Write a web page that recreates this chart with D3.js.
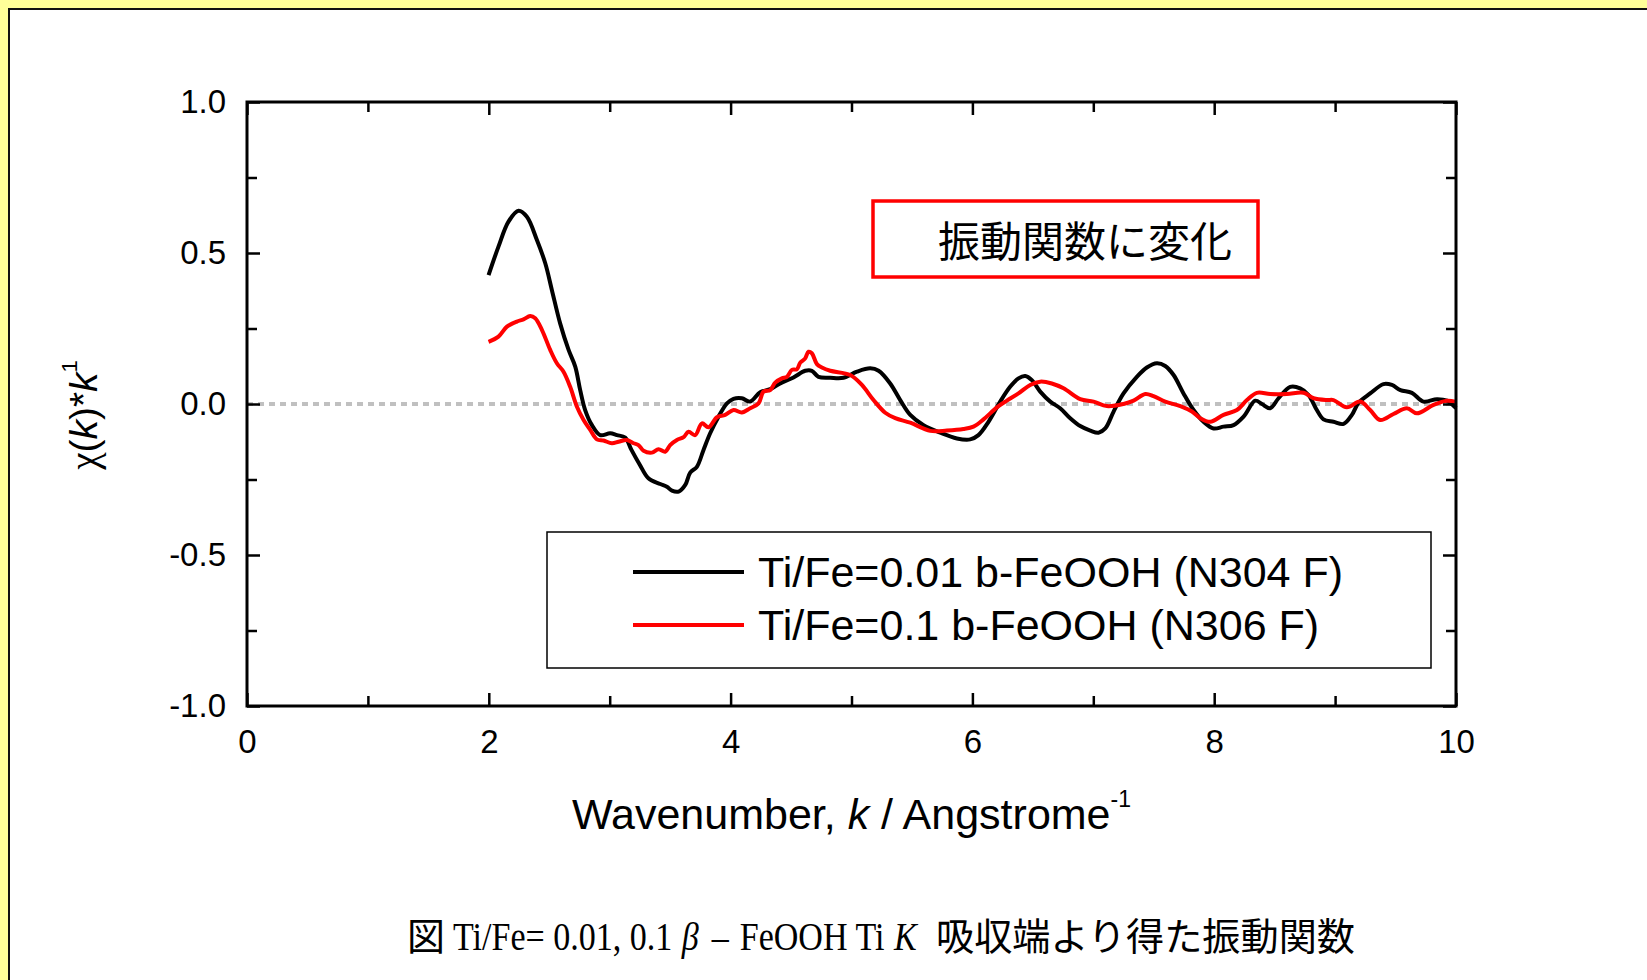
<!DOCTYPE html>
<html>
<head>
<meta charset="utf-8">
<script src="https://cdn.jsdelivr.net/npm/d3@7"></script>
<style>
  body { margin: 0; background: #fff; }
  svg { display: block; }
</style>
</head>
<body>
<svg id="chart" width="1647" height="980"></svg>
<script>
// EXAFS oscillation chi(k)*k for two Ti-doped beta-FeOOH samples
const n304K   = [1.998,2.08,2.163,2.246,2.315,2.398,2.467,2.522,2.59,2.66,2.715,2.756,2.797,2.853,2.921,3.004,3.06,3.128,3.18,3.25,3.32,3.418,3.473,3.515,3.57,3.625,3.666,3.721,3.776,3.831,3.90,3.97,4.024,4.093,4.162,4.245,4.328,4.41,4.52,4.617,4.672,4.727,4.824,4.934,5.045,5.155,5.224,5.32,5.403,5.486,5.596,5.734,5.872,5.982,6.05,6.133,6.23,6.312,6.381,6.437,6.492,6.561,6.644,6.726,6.809,6.892,6.975,7.043,7.099,7.168,7.25,7.36,7.443,7.526,7.595,7.664,7.746,7.829,7.912,7.995,8.077,8.16,8.243,8.34,8.395,8.463,8.532,8.629,8.711,8.78,8.849,8.904,8.987,9.07,9.139,9.194,9.29,9.40,9.47,9.54,9.635,9.731,9.842,9.925,10.0];
const n304Chi = [0.427,0.521,0.604,0.640,0.620,0.543,0.466,0.377,0.267,0.179,0.124,0.046,-0.020,-0.070,-0.103,-0.097,-0.103,-0.111,-0.152,-0.202,-0.246,-0.265,-0.274,-0.287,-0.290,-0.268,-0.227,-0.208,-0.152,-0.097,-0.042,0.002,0.017,0.019,0.008,0.039,0.049,0.068,0.088,0.110,0.110,0.090,0.087,0.087,0.107,0.118,0.110,0.068,0.013,-0.036,-0.070,-0.095,-0.114,-0.117,-0.103,-0.059,0.008,0.057,0.085,0.093,0.079,0.041,0.008,-0.014,-0.047,-0.073,-0.088,-0.095,-0.081,-0.025,0.035,0.090,0.121,0.135,0.126,0.096,0.035,-0.020,-0.059,-0.081,-0.075,-0.070,-0.042,0.011,0.000,-0.014,0.019,0.057,0.052,0.030,-0.020,-0.051,-0.059,-0.066,-0.036,0.004,0.035,0.066,0.063,0.046,0.037,0.008,0.016,0.011,-0.014];

const n306K   = [1.998,2.08,2.15,2.232,2.287,2.342,2.384,2.44,2.508,2.563,2.618,2.673,2.729,2.784,2.839,2.894,2.949,3.018,3.073,3.142,3.197,3.238,3.28,3.349,3.404,3.459,3.50,3.556,3.611,3.652,3.707,3.763,3.817,3.887,3.955,4.024,4.093,4.162,4.231,4.272,4.328,4.369,4.424,4.466,4.507,4.548,4.576,4.617,4.644,4.672,4.714,4.755,4.824,4.99,5.086,5.182,5.279,5.362,5.486,5.652,5.789,5.926,6.009,6.092,6.203,6.285,6.381,6.478,6.561,6.657,6.754,6.892,7.002,7.112,7.25,7.333,7.43,7.498,7.595,7.72,7.816,7.885,7.967,8.077,8.188,8.271,8.353,8.463,8.601,8.739,8.822,8.932,8.987,9.097,9.207,9.29,9.373,9.483,9.594,9.676,9.814,9.925,10.0];
const n306Chi = [0.206,0.223,0.256,0.273,0.280,0.291,0.284,0.245,0.179,0.135,0.107,0.057,-0.009,-0.053,-0.086,-0.117,-0.121,-0.130,-0.125,-0.119,-0.130,-0.136,-0.155,-0.161,-0.150,-0.158,-0.136,-0.119,-0.110,-0.092,-0.103,-0.064,-0.077,-0.044,-0.036,-0.020,-0.028,-0.014,0.002,0.041,0.046,0.071,0.085,0.090,0.113,0.115,0.137,0.151,0.173,0.168,0.132,0.121,0.110,0.096,0.063,0.013,-0.029,-0.047,-0.062,-0.089,-0.088,-0.083,-0.075,-0.051,-0.011,0.011,0.035,0.063,0.074,0.068,0.052,0.016,0.008,-0.007,0.000,0.011,0.033,0.026,0.008,-0.007,-0.025,-0.047,-0.059,-0.036,-0.020,0.013,0.037,0.033,0.033,0.037,0.019,0.013,0.013,-0.011,0.008,-0.020,-0.053,-0.033,-0.014,-0.031,-0.003,0.011,0.007];

const seriesNames  = ["Ti/Fe=0.01 b-FeOOH (N304 F)", "Ti/Fe=0.1 b-FeOOH (N306 F)"];
const seriesColors = ["#000000", "#ff0000"];

const xMajorTicks = [0, 2, 4, 6, 8, 10];
const xMinorTicks = [1, 3, 5, 7, 9];
const yMajorTicks = [-1.0, -0.5, 0.0, 0.5, 1.0];
const yMinorTicks = [-0.75, -0.25, 0.25, 0.75];
const yTickLabels = ["-1.0", "-0.5", "0.0", "0.5", "1.0"];

const noteText = "振動関数に変化";

// caption pieces: [text, italic?]
const captionLatin = [["Ti/Fe= 0.01, 0.1", false], ["β", true], ["–", false], ["FeOOH Ti", false], ["K", true]];

const svg = d3.select("#chart");
const sans = "'Liberation Sans', Arial, sans-serif";
const serif = "'Liberation Serif', 'Times New Roman', serif";
const cjk = "'Noto Sans CJK JP', sans-serif";

// page frame: pale yellow strip on top/left edge with a dark rule inside it
svg.append("rect").attr("x", 0).attr("y", 0).attr("width", 1647).attr("height", 980).attr("fill", "#fff");
svg.append("rect").attr("x", 0).attr("y", 0).attr("width", 1647).attr("height", 8).attr("fill", "#ffff99");
svg.append("rect").attr("x", 0).attr("y", 0).attr("width", 8).attr("height", 980).attr("fill", "#ffff99");
svg.append("rect").attr("x", 8).attr("y", 8).attr("width", 1639).attr("height", 2).attr("fill", "#111");
svg.append("rect").attr("x", 8).attr("y", 8).attr("width", 2).attr("height", 972).attr("fill", "#111");

const plot = { left: 247, right: 1456, top: 102, bottom: 706 };
const x = d3.scaleLinear().domain([0, 10]).range([plot.left, plot.right]);
const y = d3.scaleLinear().domain([-1, 1]).range([plot.bottom, plot.top]);

// zero reference line
svg.append("line")
  .attr("x1", x(0)).attr("x2", x(10)).attr("y1", y(0)).attr("y2", y(0))
  .attr("stroke", "#c0c0c0").attr("stroke-width", 4).attr("stroke-dasharray", "6,5");

// data curves
const line = d3.line().x(d => x(d[0])).y(d => y(d[1])).curve(d3.curveCatmullRom.alpha(0.5));
const curves = [
  d3.zip(n304K, n304Chi),
  d3.zip(n306K, n306Chi)
];
curves.forEach((c, i) => {
  svg.append("path").datum(c).attr("d", line)
    .attr("fill", "none").attr("stroke", seriesColors[i]).attr("stroke-width", 4)
    .attr("stroke-linejoin", "round");
});

// axes: ticks pointing inward on all four sides
const majorLen = 13, minorLen = 10;
function styleAxis(g) {
  g.select(".domain").remove();
  g.selectAll(".tick line").attr("stroke", "#000").attr("stroke-width", 2.5);
}
svg.append("g").attr("transform", `translate(0,${plot.bottom})`)
  .call(d3.axisBottom(x).tickValues(xMajorTicks).tickSize(-majorLen).tickFormat(d3.format("d")).tickPadding(24))
  .call(styleAxis)
  .call(g => g.selectAll("text").attr("font-family", sans).attr("font-size", 33).attr("fill", "#000"));
svg.append("g").attr("transform", `translate(0,${plot.bottom})`)
  .call(d3.axisBottom(x).tickValues(xMinorTicks).tickSize(-minorLen).tickFormat(""))
  .call(styleAxis);
svg.append("g").attr("transform", `translate(0,${plot.top})`)
  .call(d3.axisTop(x).tickValues(xMajorTicks).tickSize(-majorLen).tickFormat(""))
  .call(styleAxis);
svg.append("g").attr("transform", `translate(0,${plot.top})`)
  .call(d3.axisTop(x).tickValues(xMinorTicks).tickSize(-minorLen).tickFormat(""))
  .call(styleAxis);
svg.append("g").attr("transform", `translate(${plot.left},0)`)
  .call(d3.axisLeft(y).tickValues(yMajorTicks).tickSize(-majorLen)
    .tickFormat((d, i) => yTickLabels[i]).tickPadding(21))
  .call(styleAxis)
  .call(g => g.selectAll("text").attr("font-family", sans).attr("font-size", 33).attr("fill", "#000"));
svg.append("g").attr("transform", `translate(${plot.left},0)`)
  .call(d3.axisLeft(y).tickValues(yMinorTicks).tickSize(-minorLen).tickFormat(""))
  .call(styleAxis);
svg.append("g").attr("transform", `translate(${plot.right},0)`)
  .call(d3.axisRight(y).tickValues(yMajorTicks).tickSize(-majorLen).tickFormat(""))
  .call(styleAxis);
svg.append("g").attr("transform", `translate(${plot.right},0)`)
  .call(d3.axisRight(y).tickValues(yMinorTicks).tickSize(-minorLen).tickFormat(""))
  .call(styleAxis);

// plot frame
svg.append("rect")
  .attr("x", plot.left).attr("y", plot.top)
  .attr("width", plot.right - plot.left).attr("height", plot.bottom - plot.top)
  .attr("fill", "none").attr("stroke", "#000").attr("stroke-width", 3);

// x-axis title
const xt = svg.append("text").attr("x", (plot.left + plot.right) / 2).attr("y", 829).attr("text-anchor", "middle")
  .attr("font-family", sans).attr("font-size", 43).attr("fill", "#000");
xt.append("tspan").text("Wavenumber, ");
xt.append("tspan").attr("font-style", "italic").text("k");
xt.append("tspan").text(" / Angstrome");
xt.append("tspan").attr("font-size", 23).attr("dy", -22).text("-1");

// y-axis title
const yt = svg.append("text").attr("transform", "translate(97,415) rotate(-90)")
  .attr("text-anchor", "middle").attr("font-family", sans).attr("font-size", 39).attr("fill", "#000");
yt.append("tspan").attr("font-family", serif).text("χ");
yt.append("tspan").text("(");
yt.append("tspan").attr("font-style", "italic").text("k");
yt.append("tspan").text(")*");
yt.append("tspan").attr("font-style", "italic").text("k");
yt.append("tspan").attr("font-size", 22).attr("dy", -20).text("1");

// annotation box
svg.append("rect").attr("x", 873).attr("y", 201).attr("width", 385).attr("height", 76)
  .attr("fill", "#fff").attr("stroke", "#ff0000").attr("stroke-width", 3.5);
svg.append("text").attr("x", 938).attr("y", 257).attr("font-family", cjk).attr("font-size", 42)
  .attr("fill", "#000").text(noteText);

// legend
const legend = svg.append("g");
legend.append("rect").attr("x", 547).attr("y", 532).attr("width", 884).attr("height", 136)
  .attr("fill", "#fff").attr("stroke", "#000").attr("stroke-width", 1.5);
seriesNames.forEach((name, i) => {
  const ly = 572 + i * 53;
  legend.append("line").attr("x1", 633).attr("x2", 744).attr("y1", ly).attr("y2", ly)
    .attr("stroke", seriesColors[i]).attr("stroke-width", 4);
  legend.append("text").attr("x", 758).attr("y", ly + 15)
    .attr("font-family", sans).attr("font-size", 43).attr("fill", "#000").text(name);
});

// figure caption: CJK lead-in, condensed serif run laid out piece by piece, CJK tail
const cy = 950;
const cap = svg.append("g").attr("fill", "#000");
cap.append("text").attr("x", 407).attr("y", cy).attr("font-family", cjk).attr("font-size", 38).text("図");
const latinGroup = cap.append("g");
let cursor = 0;
const gap = 11;
captionLatin.forEach(([txt, italic], i) => {
  const t = latinGroup.append("text").attr("x", cursor).attr("y", cy)
    .attr("font-family", serif).attr("font-size", 40)
    .attr("font-style", italic ? "italic" : "normal").text(txt);
  const bb = t.node().getBBox();
  cursor += bb.width + gap + (italic ? 3 : 0);
});
const latinWidth = cursor - gap;
const latinStart = 453, latinEnd = 922;
latinGroup.attr("transform", `translate(${latinStart},0) scale(${(latinEnd - latinStart) / latinWidth},1)`);
cap.append("text").attr("x", 936).attr("y", cy).attr("font-family", cjk).attr("font-size", 38)
  .attr("textLength", 419).attr("lengthAdjust", "spacingAndGlyphs").text("吸収端より得た振動関数");
</script>
</body>
</html>
